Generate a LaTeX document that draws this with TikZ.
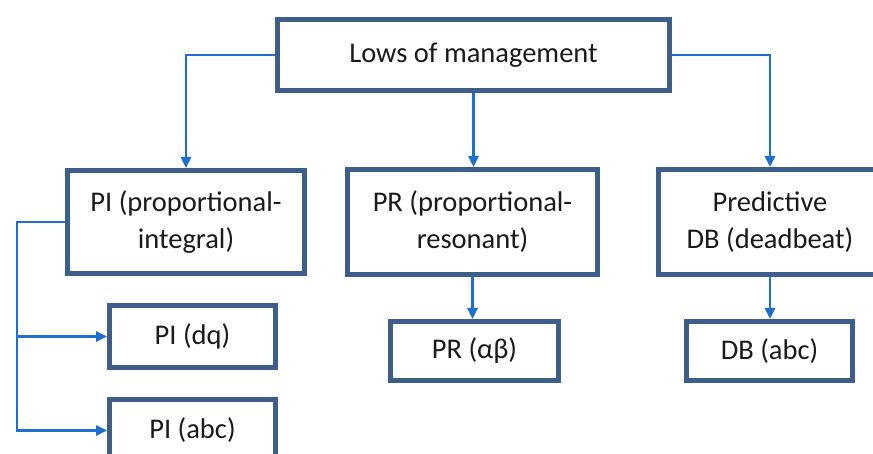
\documentclass[tikz,border=0pt]{standalone}
\usepackage{fontspec}
\setmainfont{Carlito}
\usetikzlibrary{arrows.meta}
\definecolor{frame}{HTML}{3D5E8A}
\definecolor{wire}{HTML}{1F6FCC}
\definecolor{ink}{HTML}{1A1A1A}
\begin{document}
\begin{tikzpicture}[x=1pt,y=-1pt,
  box/.style={draw=frame, line width=5pt, fill=white, text=ink,
    align=center, inner sep=0pt,
    font=\fontsize{28.5}{37}\selectfont},
  link/.style={draw=wire, line width=2.6pt,
    -{Triangle[length=11pt,width=10pt]}}]
  \fill[white] (0,0) rectangle (873,454);
  \clip (0,0) rectangle (873,454);

  % root
  \node[box, minimum width=392pt, minimum height=71pt] (root) at (473.5,55)
    {Lows of management};

  % control families
  \node[box, minimum width=237pt, minimum height=103pt] (pi) at (186,222)
    {PI (proportional-\\integral)};
  \node[box, minimum width=250pt, minimum height=105pt] (pr) at (472.5,222)
    {PR (proportional-\\resonant)};
  \node[box, minimum width=223pt, minimum height=105pt] (db) at (770,222)
    {Predictive\\DB (deadbeat)};

  % implementations
  \node[box, minimum width=166pt, minimum height=62pt] (pidq) at (192.5,336.5)
    {PI (dq)};
  \node[box, minimum width=166pt, minimum height=62pt] (piabc) at (192.5,430.5)
    {PI (abc)};
  \node[box, minimum width=168pt, minimum height=59pt] (prab) at (474.5,351)
    {PR (αβ)};
  \node[box, minimum width=166pt, minimum height=59pt] (dbabc) at (769.5,351)
    {DB (abc)};

  % connectors from the root
  \draw[link] (root.west) -| (pi.north);
  \draw[link] (root.south) -- (root.south |- pr.north);
  \draw[link] (root.east) -| (db.north);

  % connectors to the implementations
  \draw[link] (pr.south) -- (pr.south |- prab.north);
  \draw[link] (db.south) -- (db.south |- dbabc.north);

  \coordinate (spine) at (17,222);
  \draw[link] (pi.west) -- (spine) |- (piabc.west);
  \draw[link] (spine |- pidq.west) -- (pidq.west);
\end{tikzpicture}
\end{document}
